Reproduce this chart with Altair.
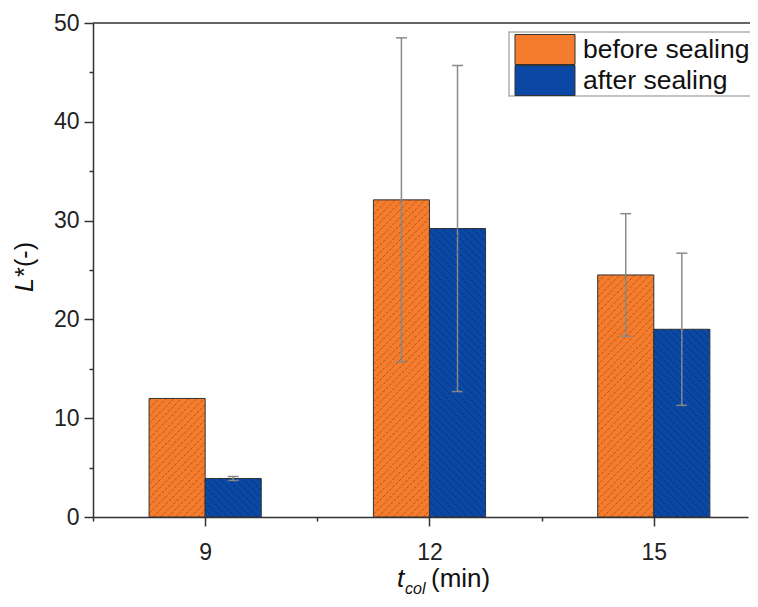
import altair as alt
import pandas as pd

# ---------------- data ----------------
t_col = [9, 12, 15]
series_names = ["before sealing", "after sealing"]
before_vals = [12.0, 32.1, 24.5]
before_err = [0.0, 16.4, 6.2]
after_vals = [3.9, 29.2, 19.0]
after_err = [0.2, 16.5, 7.7]
series_colors = ["#F47C2C", "#0B48A6"]
hatch_colors = ["#5a2400", "#00122f"]
y_ticks = [0, 5, 10, 15, 20, 25, 30, 35, 40, 45, 50]
x_ticks = [7.5, 9, 10.5, 12, 13.5, 15]

rows = []
for i, t in enumerate(t_col):
    rows.append({"t": t, "series": series_names[0], "value": before_vals[i], "err": before_err[i]})
    rows.append({"t": t, "series": series_names[1], "value": after_vals[i], "err": after_err[i]})
df = pd.DataFrame(rows)
leg_df = pd.DataFrame({"series": series_names})
one = pd.DataFrame({"k": [0]})

# ---------------- layout constants ----------------
W, H = 655, 494
XMIN, XMAX = 7.5, 16.26
BW = 0.75
KX = W / (XMAX - XMIN)
KY = H / 50.0
S = 7.5
FONT = "Liberation Sans"
B = series_names[0]

xscale = alt.Scale(domain=[XMIN, XMAX], nice=False, zero=False)
yscale = alt.Scale(domain=[0, 50], nice=False)
cscale = alt.Scale(domain=series_names, range=series_colors)

x_axis = alt.Axis(
    values=x_ticks,
    labelExpr="datum.value % 3 === 0 ? datum.label : ''",
    tickSize={"condition": {"test": "datum.value % 3 === 0", "value": 9}, "value": 4},
    labelFontSize=23, labelFont=FONT, labelColor="#222", labelPadding=15,
    labelFlush=False, labelOverlap=False,
    domainColor="#333", tickColor="#333", domainWidth=1.5, tickWidth=1.5,
    grid=False, title=None,
)
y_axis = alt.Axis(
    values=y_ticks,
    labelExpr="datum.value % 10 === 0 ? datum.label : ''",
    tickSize={"condition": {"test": "datum.value % 10 === 0", "value": 9}, "value": 4},
    labelFontSize=23, labelFont=FONT, labelColor="#222", labelPadding=5,
    labelFlush=False, labelOverlap=False,
    domainColor="#333", tickColor="#333", domainWidth=1.5, tickWidth=1.5,
    grid=False, title=None,
)


def X(field):
    return alt.X(field, scale=xscale, axis=x_axis)


base = alt.Chart(df).transform_calculate(
    b=f"datum.series === '{B}' ? 1 : 0",
).transform_calculate(
    x0=f"datum.b ? datum.t - {BW} : datum.t",
    x1=f"datum.b ? datum.t : datum.t + {BW}",
    xc=f"datum.b ? datum.t - {BW/2} : datum.t + {BW/2}",
    lo="datum.value - datum.err",
    hi="datum.value + datum.err",
)

bars = base.mark_rect(stroke="#333", strokeWidth=1).encode(
    x=X("x0:Q"),
    x2="x1:Q",
    y=alt.Y("value:Q", scale=yscale, axis=y_axis),
    y2=alt.datum(0),
    color=alt.Color("series:N", scale=cscale, legend=None),
)

hatch = base.transform_calculate(
    k="sequence(0, 70)",
).transform_flatten(["k"]).transform_calculate(
    u0=f"(datum.x0 - {XMIN}) * {KX}",
    u1=f"(datum.x1 - {XMIN}) * {KX}",
    vt=f"datum.value * {KY}",
    hc=f"datum.b ? '{hatch_colors[0]}' : '{hatch_colors[1]}'",
).transform_calculate(
    c=f"datum.b ? floor(-datum.u1 / {S}) * {S} + datum.k * {S} : floor(datum.u0 / {S}) * {S} + datum.k * {S}",
).transform_calculate(
    us="datum.b ? max(datum.u0, -datum.c) : max(datum.u0, datum.c - datum.vt)",
    ue="datum.b ? min(datum.u1, datum.vt - datum.c) : min(datum.u1, datum.c)",
).transform_filter("datum.ue - datum.us > 0.5").transform_calculate(
    hx1=f"{XMIN} + datum.us / {KX}",
    hx2=f"{XMIN} + datum.ue / {KX}",
    hy1=f"(datum.b ? datum.us + datum.c : datum.c - datum.us) / {KY}",
    hy2=f"(datum.b ? datum.ue + datum.c : datum.c - datum.ue) / {KY}",
).mark_rule(strokeWidth=0.8, opacity=0.55, strokeDash=[3, 1.5]).encode(
    x=X("hx1:Q"),
    x2="hx2:Q",
    y=alt.Y("hy1:Q", scale=yscale, axis=None),
    y2="hy2:Q",
    stroke=alt.Stroke("hc:N", scale=None, legend=None),
)

err_base = base.transform_filter("datum.err > 0")
stems = err_base.mark_rule(color="#8a8a8a", strokeWidth=1.5).encode(
    x=X("xc:Q"),
    y=alt.Y("lo:Q", scale=yscale, axis=None),
    y2="hi:Q",
)
caps_hi = err_base.mark_tick(orient="horizontal", size=11, thickness=1.5, color="#8a8a8a", opacity=1).encode(
    x=X("xc:Q"),
    y=alt.Y("hi:Q", scale=yscale, axis=None),
)
caps_lo = err_base.mark_tick(orient="horizontal", size=11, thickness=1.5, color="#8a8a8a", opacity=1).encode(
    x=X("xc:Q"),
    y=alt.Y("lo:Q", scale=yscale, axis=None),
)

top_line = alt.Chart(one).mark_rule(color="#333", strokeWidth=1.5).encode(
    x=alt.value(0), x2=alt.value(W + 20), y=alt.value(0)
)

leg_box = alt.Chart(one).mark_rect(fill="white", stroke="#b0b0b0", strokeWidth=1.5).encode(
    x=alt.value(416), x2=alt.value(W + 20), y=alt.value(9), y2=alt.value(73)
)
leg_y = alt.Y("series:N", scale=alt.Scale(type="point", domain=series_names, range=[26.5, 57.5], padding=0), axis=None)
leg_sw = alt.Chart(leg_df).mark_point(
    shape="M-1,-0.5H1V0.5H-1Z", size=3600, filled=True, opacity=1, stroke="#333", strokeWidth=1
).encode(
    x=alt.value(452), y=leg_y, color=alt.Color("series:N", scale=cscale, legend=None)
)
leg_tx = alt.Chart(leg_df).mark_text(
    align="left", baseline="middle", fontSize=26.5, font=FONT, color="#111"
).encode(x=alt.value(490), y=leg_y, text="series:N")


# axis titles as text marks (mixed italic / subscript)
def txt(s, x, y, size=24, style="normal", angle=0):
    return alt.Chart(one).mark_text(
        text=s, align="left", baseline="alphabetic", fontSize=size, font=FONT,
        fontStyle=style, color="#111", angle=angle,
    ).encode(x=alt.value(x), y=alt.value(y))


xt1 = txt("t", 304, 564, 26, "italic")
xt2 = txt("col", 312, 571, 16, "italic")
xt3 = txt("(min)", 338, 564, 26)
yt1 = txt("L*", -60, 269, 25, "italic", 270)
yt2 = txt("(-)", -60, 244, 25, "normal", 270)

chart = alt.layer(
    bars, stems, caps_hi, caps_lo, hatch, top_line,
    leg_box, leg_sw, leg_tx, xt1, xt2, xt3, yt1, yt2,
).resolve_scale(y="independent").properties(
    width=W, height=H, autosize="none",
    padding={"left": 85, "top": 15, "right": 2, "bottom": 82},
).configure_view(strokeWidth=0)

chart.save("out.html", embed_options={"renderer": "svg", "actions": False})
